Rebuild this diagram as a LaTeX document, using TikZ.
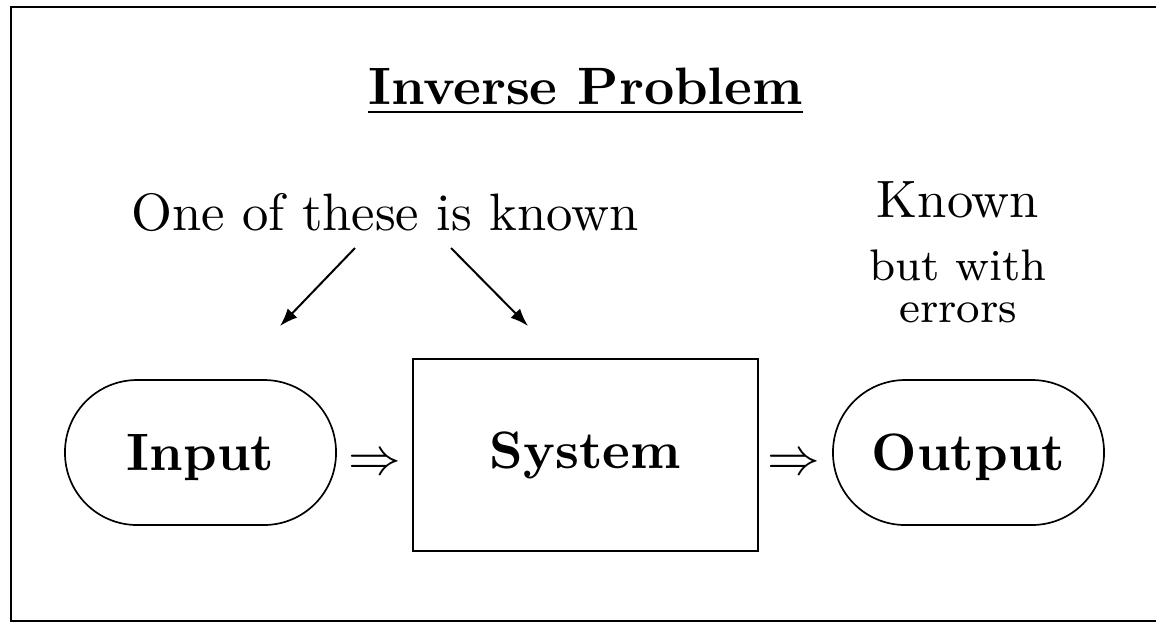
\documentclass[tikz,border=0pt]{standalone}
\usetikzlibrary{arrows.meta}

\tikzset{
  big/.style={font=\normalsize},
  small/.style={font=\fontsize{8.4}{10}\selectfont},
  stadium/.style={draw, line width=0.32pt, rounded corners=13.7pt,
    minimum width=51.5pt, minimum height=27.55pt, text depth=0pt,
    font=\normalsize\bfseries},
  sysbox/.style={draw, line width=0.32pt, minimum width=65.55pt,
    minimum height=36.5pt, font=\normalsize\bfseries},
  conn/.style={line width=0.38pt, -{Latex[length=3.4pt,width=2.5pt]}}
}

\begin{document}
\begin{tikzpicture}[x=0.19pt,y=-0.19pt]

        \clip (0,0) rectangle (1156,637);
        \draw[line width=0.42pt] (11,7) rectangle (1180,621);

        % titles
        \node[big, anchor=base] (title) at (585.5,104) {\textbf{\underline{Inverse Problem}}};
        \node[big, anchor=base] (oneof) at (385,230) {One of these is known};
        \node[big, anchor=base] (known) at (958,217) {Known};
        \node[small, anchor=base] (butwith) at (958,280) {but with};
        \node[small, anchor=base] (errors) at (958,322) {errors};

        % blocks
        \node[stadium] (input)  at (200.5,452.5) {Input};
        \node[sysbox]  (system) at (585.5,455)   {System};
        \node[stadium] (output) at (968.5,452.5) {Output};

        \node[big, anchor=base] (imp1) at (375,474) {$\Rightarrow$};
        \node[big, anchor=base] (imp2) at (794,474) {$\Rightarrow$};

        % arrows
        \coordinate (lstart) at (355,248);
        \coordinate (lend)   at (280,326);
        \coordinate (rstart) at (451,248);
        \coordinate (rend)   at (528,326);
        \draw[conn] (lstart) -- (lend);
        \draw[conn] (rstart) -- (rend);

      \end{tikzpicture}
\end{document}
